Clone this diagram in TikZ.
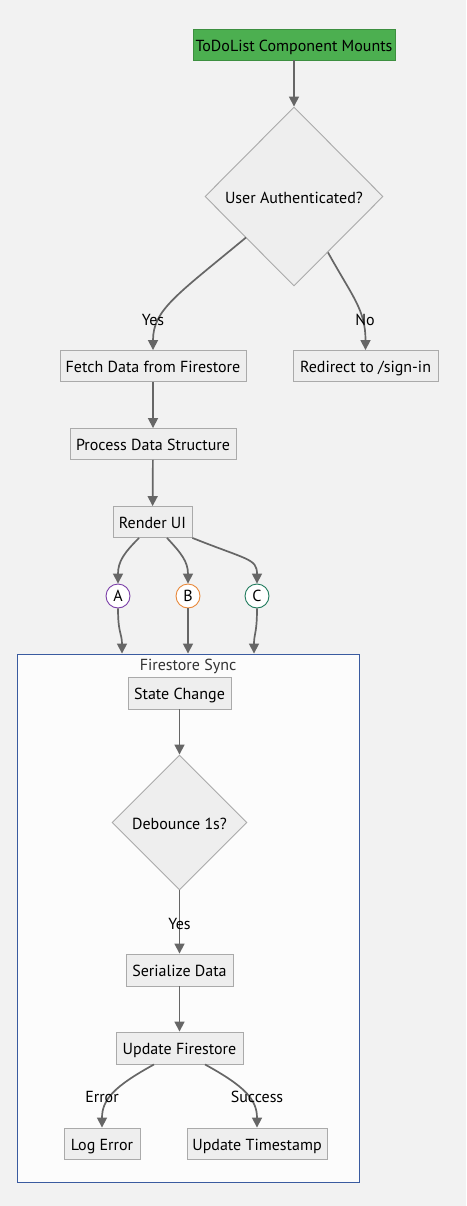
\documentclass[tikz,border=0pt]{standalone}
\usepackage{fontspec}
\setmainfont{PT Sans}
\usetikzlibrary{arrows.meta,shapes.geometric}
\definecolor{bgc}{HTML}{F2F2F2}
\definecolor{nodefill}{HTML}{EEEEEE}
\definecolor{nodeline}{HTML}{AAAAAA}
\definecolor{edgec}{HTML}{666666}
\definecolor{greenfill}{HTML}{4CAF50}
\definecolor{greenline}{HTML}{3D8F40}
\definecolor{syncfill}{HTML}{FCFCFC}
\definecolor{syncline}{HTML}{3A5BA0}
\definecolor{cA}{HTML}{7B3FA8}
\definecolor{cB}{HTML}{E8883A}
\definecolor{cC}{HTML}{1F7A5C}
\tikzset{
  txt/.style={font=\fontsize{16}{19}\selectfont, text height=13.5pt, text depth=0pt},
  box/.style={txt, draw=nodeline, fill=nodefill, line width=0.9pt, inner sep=0pt, minimum height=31pt},
  startbox/.style={box, draw=greenline, fill=greenfill},
  decision/.style={txt, diamond, draw=nodeline, fill=nodefill, line width=0.9pt, inner sep=0pt, aspect=1},
  conn/.style={circle, draw=#1, fill=white, line width=0.9pt, inner sep=0pt, minimum size=24pt, font=\fontsize{16}{19}\selectfont},
  edge/.style={draw=edgec, line width=1.7pt, -{Triangle[length=10pt,width=10pt]}},
  elabel/.style={txt, inner sep=0pt},
}
\begin{document}
\begin{tikzpicture}[x=1pt,y=-1pt]
\fill[bgc] (0,0) rectangle (466,1206);
\useasboundingbox (0,0) rectangle (466,1206);
% subgraph
\node[draw=syncline, fill=syncfill, line width=0.9pt, minimum width=342pt, minimum height=528pt, inner sep=0pt] (sync) at (188,918) {};
\node[txt, text=black!80] (synctitle) at (188,664) {Firestore Sync};
% nodes
\node[startbox, minimum width=202pt] (start) at (294,44.5) {ToDoList Component Mounts};
\node[decision, minimum width=178pt, minimum height=179pt] (auth) at (294,196.5) {User Authenticated?};
\node[box, minimum width=186pt] (fetch) at (153,366) {Fetch Data from Firestore};
\node[box, minimum width=145pt] (redirect) at (365.5,366) {Redirect to /sign-in};
\node[box, minimum width=166pt] (process) at (153,444) {Process Data Structure};
\node[box, minimum width=79pt] (render) at (152.5,522) {Render UI};
\node[conn=cA] (A) at (118,596) {A};
\node[conn=cB] (B) at (188,596) {B};
\node[conn=cC] (C) at (257,596) {C};
\node[box, minimum width=103pt, minimum height=32pt] (state) at (179.5,693) {State Change};
\node[decision, minimum width=135pt, minimum height=135pt] (debounce) at (179.5,822.5) {Debounce 1s?};
\node[box, minimum width=107pt, minimum height=32pt] (serialize) at (179.5,970) {Serialize Data};
\node[box, minimum width=127pt, minimum height=32pt] (update) at (179.5,1048) {Update Firestore};
\node[box, minimum width=76pt] (logerr) at (102,1143.5) {Log Error};
\node[box, minimum width=140pt] (stamp) at (257,1143.5) {Update Timestamp};
% edges
\draw[edge] (start) -- (auth);
\draw[edge] ([xshift=-48pt,yshift=-41pt]auth.center) .. controls +(-70,58) and +(0,-40) .. (fetch.north);
\draw[edge] ([xshift=34pt,yshift=-56pt]auth.center) .. controls +(25,45) and +(0,-40) .. (redirect.north);
\draw[edge] (fetch) -- (process);
\draw[edge] (process) -- (render);
\draw[edge] ([xshift=-13.5pt]render.south) .. controls +(-15,15) and +(0,-22) .. (A.north);
\draw[edge] ([xshift=14.5pt]render.south) .. controls +(14,15) and +(0,-22) .. (B.north);
\draw[edge] (render.south east) .. controls +(55,22) and +(0,-25) .. (C.north);
\draw[edge] (A.south) .. controls +(0,25) and +(0,-20) .. ([xshift=-66pt]sync.north);
\draw[edge] (B.south) -- (B.south |- sync.north);
\draw[edge] (C.south) .. controls +(0,25) and +(0,-20) .. ([xshift=66pt]sync.north);
\draw[edge] (state) -- (debounce);
\draw[edge] (debounce) -- (serialize);
\draw[edge] (serialize) -- (update);
\draw[edge] ([xshift=-25.5pt]update.south) .. controls +(-40,22) and +(0,-28) .. (logerr.north);
\draw[edge] ([xshift=25.5pt]update.south) .. controls +(40,22) and +(0,-28) .. (stamp.north);
% edge labels
\node[elabel] (lyes1) at (153,319) {Yes};
\node[elabel] (lno) at (365,319) {No};
\node[elabel] (lyes2) at (179.5,923) {Yes};
\node[elabel] (lerr) at (102,1096) {Error};
\node[elabel] (lsucc) at (257,1096) {Success};
\end{tikzpicture}
\end{document}
